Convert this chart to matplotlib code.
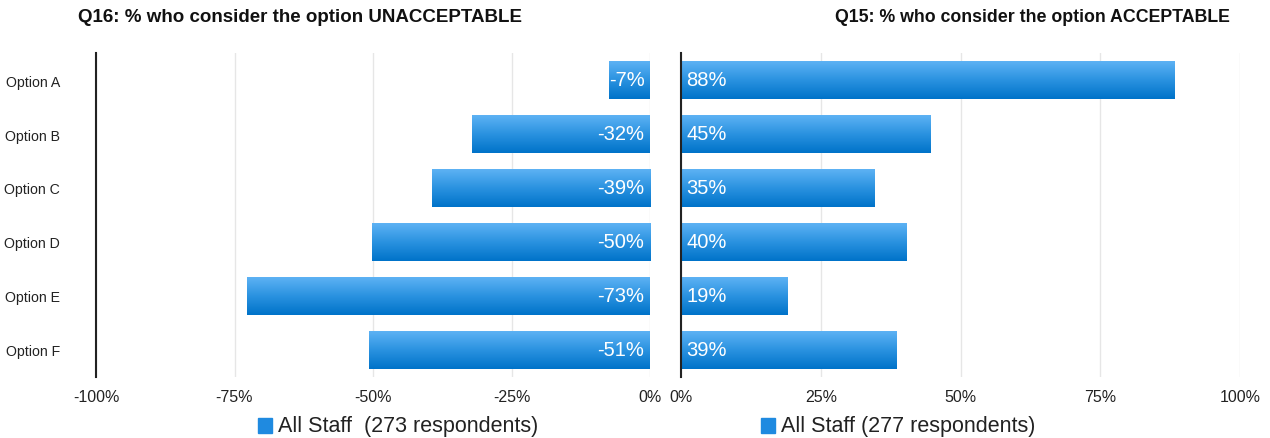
import numpy as np
import matplotlib
matplotlib.use("Agg")
import matplotlib.pyplot as plt
from matplotlib.colors import LinearSegmentedColormap

plt.rcParams['font.family'] = ['Liberation Sans', 'DejaVu Sans']

# data
options = ['Option A', 'Option B', 'Option C', 'Option D', 'Option E', 'Option F']
unacceptable = [-7.4, -32.1, -39.4, -50.2, -72.7, -50.7]
unacc_labels = ['-7%', '-32%', '-39%', '-50%', '-73%', '-51%']
acceptable = [88.2, 44.7, 34.7, 40.3, 19.1, 38.6]
acc_labels = ['88%', '45%', '35%', '40%', '19%', '39%']
left_ticks = [-100, -75, -50, -25, 0]
right_ticks = [0, 25, 50, 75, 100]

grad = LinearSegmentedColormap.from_list('bar', ['#5db2f4', '#2a92e0', '#0073c9'])


def gradient_bars(ax, bars):
    img = np.linspace(0, 1, 64).reshape(-1, 1)
    for b in bars:
        x0, y0 = b.get_x(), b.get_y()
        w, h = b.get_width(), b.get_height()
        im = ax.imshow(img, cmap=grad, aspect='auto', zorder=2,
                       extent=[x0, x0 + w, y0 + h, y0], origin='upper')
        im.set_clip_path(b)
        b.set_facecolor('none')


def style(ax, ticks):
    ax.set_xticks(ticks)
    ax.set_xticklabels(['%d%%' % t for t in ticks], fontsize=11.5, color='#222222')
    ax.set_ylim(len(options) - 0.5, -0.5)
    ax.grid(axis='x', color='#e6e6e6', linewidth=1, zorder=0)
    ax.set_axisbelow(True)
    for s in ['top', 'right', 'bottom']:
        ax.spines[s].set_visible(False)
    ax.spines['left'].set_color('#222222')
    ax.spines['left'].set_linewidth(1.5)
    ax.tick_params(axis='x', length=0, pad=9)
    ax.tick_params(axis='y', length=0)


fig = plt.figure(figsize=(12.7, 4.39), dpi=100)
axL = fig.add_axes([96 / 1270, 1 - 378 / 439, 554 / 1270, 324 / 439])
axR = fig.add_axes([681 / 1270, 1 - 378 / 439, 559 / 1270, 324 / 439])

y = np.arange(len(options))

barsL = axL.barh(y, unacceptable, height=0.7, color='#2a92e0', zorder=2,
                 edgecolor='none')
gradient_bars(axL, barsL)
axL.set_xlim(-100, 0)
style(axL, left_ticks)
axL.set_yticks(y)
axL.set_yticklabels(options, fontsize=10.2, color='#222222')
axL.tick_params(axis='y', pad=26)
for i, lab in enumerate(unacc_labels):
    axL.text(-1, i, lab, ha='right', va='center', color='white', fontsize=14.5, zorder=3)

barsR = axR.barh(y, acceptable, height=0.7, color='#2a92e0', zorder=2,
                 edgecolor='none')
gradient_bars(axR, barsR)
axR.set_xlim(0, 100)
style(axR, right_ticks)
axR.set_yticks([])
for i, lab in enumerate(acc_labels):
    axR.text(1, i, lab, ha='left', va='center', color='white', fontsize=14.5, zorder=3)

fig.text(78 / 1270, 1 - 18 / 439, 'Q16: % who consider the option UNACCEPTABLE',
         fontsize=13.5, fontweight='bold', va='center', ha='left', color='#111111')
fig.text(1230 / 1270, 1 - 18 / 439, 'Q15: % who consider the option ACCEPTABLE',
         fontsize=12.8, fontweight='bold', va='center', ha='right', color='#111111')

# legends
for lx, txt in [(265, 'All Staff  (273 respondents)'), (768, 'All Staff (277 respondents)')]:
    fig.patches.append(plt.Rectangle(((lx - 7) / 1270, 1 - 434 / 439), 14 / 1270, 15 / 439,
                                     transform=fig.transFigure, color='#1f8ae0'))
    fig.text((lx + 13) / 1270, 1 - 427 / 439, txt, fontsize=15.5, va='center',
             ha='left', color='#222222')

fig.savefig('out.png', dpi=100)
